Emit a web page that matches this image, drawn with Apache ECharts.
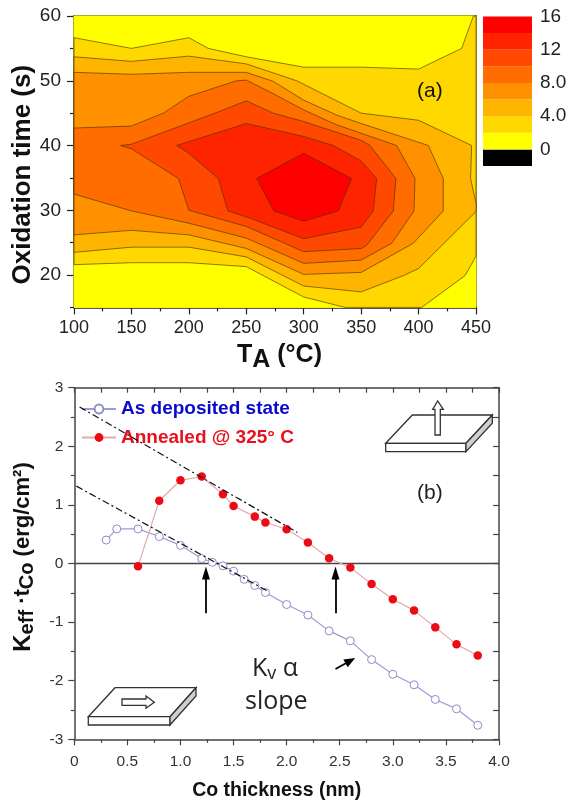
<!DOCTYPE html>
<html>
<head>
<meta charset="utf-8">
<style>html,body{margin:0;padding:0;background:#fff}#c{width:569px;height:803px}</style>
<script src="https://cdn.jsdelivr.net/npm/echarts@6/dist/echarts.min.js"></script>
</head>
<body>
<div id="c"></div>
<script>
// ---- Panel (a): contour boundaries, [T_A in °C, oxidation time in s]
const contour2 = [[100,56.65],[150,55],[200,56.65],[216.9,55],[250,53.7],[300,52.1],[350,52.1],[400,51.8],[437.5,55],[447.7,60],[450,60],[450,22.9],[440.4,19.9],[402.7,15],[336,15],[300,16.6],[250,21.3],[200,21.9],[150,21.9],[100,21.6]];
const contour4 = [[100,53.7],[150,53],[200,53.8],[250,52.6],[293.9,50],[350,45],[400,43.9],[446.2,40],[445.3,34.9],[450,31.1],[450,29.8],[400,21],[386.7,19.9],[350,17.4],[300,18.3],[250,22.8],[200,24.3],[150,24.3],[100,23.5]];
const contour6 = [[100,51.3],[150,51],[200,51.3],[250,51.3],[273.5,49.9],[300,47],[328.7,44.7],[350,43.4],[408.5,40],[421.5,34.9],[421.5,29.9],[395.4,24.9],[350,20.4],[300,20.1],[250,24.1],[200,26.2],[150,26.9],[100,26.2]];
const contour8 = [[100,42.7],[150,43],[177.8,45],[200,47.6],[241.6,50],[250,50.1],[273.5,48],[300,45.5],[328.7,43.2],[350,41.9],[380.9,40],[396.9,34.9],[396,29.9],[376.6,24.9],[350,22.3],[300,21.8],[250,25.7],[200,28],[150,29.9],[100,32.5]];
const contour10 = [[140.6,40],[150,40.2],[222.8,45],[250,46.9],[273.5,45],[300,43.7],[350,40.8],[357.7,40],[380.3,34.9],[378,29.9],[354.8,24.6],[350,24.1],[300,23.6],[250,27.5],[200,30],[191,34.9],[150,39.5]];
const contour12 = [[189.4,40],[200,38.8],[225.6,34.9],[234,29.9],[250,29],[300,25.6],[350,27.4],[360.6,29.9],[363.5,34.9],[350,37.6],[325.8,40],[300,41.4],[250,43.4]];
const contour14 = [[259,34.9],[300,38.8],[341.7,34.9],[330,29.9],[300,28.3],[274,29.9]];
const contourBase = [[100,15],[450,15],[450,60],[100,60]];
const contours = [contourBase,contour2,contour4,contour6,contour8,contour10,contour12,contour14];
const bandColors = ['#FFFF00','#FFD800','#FFB400','#FF9000','#FF6C00','#FF4800','#FF2400','#FF0000'];

// ---- Colour scale
const scaleLevels = [-2,0,2,4,6,8,10,12,14,16];
const scaleColors = ['#000000'].concat(bandColors);
const scaleLabels = {16:'16',12:'12',8:'8.0',4:'4.0',0:'0'};

// ---- Panel (b)
const depositedX = [0.3,0.4,0.6,0.8,1.0,1.2,1.3,1.4,1.5,1.6,1.7,1.8,2.0,2.2,2.4,2.6,2.8,3.0,3.2,3.4,3.6,3.8];
const depositedY = [0.40,0.59,0.59,0.46,0.31,0.085,0.02,-0.04,-0.13,-0.27,-0.375,-0.495,-0.70,-0.88,-1.15,-1.32,-1.64,-1.89,-2.07,-2.32,-2.48,-2.76];
const annealedX = [0.6,0.8,1.0,1.2,1.4,1.5,1.7,1.8,2.0,2.2,2.4,2.6,2.8,3.0,3.2,3.4,3.6,3.8];
const annealedY = [-0.045,1.07,1.42,1.485,1.18,0.98,0.80,0.70,0.585,0.36,0.09,-0.07,-0.35,-0.61,-0.80,-1.09,-1.38,-1.57];
const zeroLine = [[0,0],[4,0]];
const slopeAnnealed = [[0.05,2.67],[2.1,0.53]];
const slopeDeposited = [[0.02,1.32],[1.82,-0.47]];
const arrowX = [1.24,2.46];
const arrowFromY = -0.85, arrowToY = -0.16;
const slopeArrow = [[2.46,-1.80],[2.6,-1.66]];

const FONT = '"Liberation Sans", Arial, sans-serif';
const zip = (xs,ys) => xs.map((x,i)=>[x,ys[i]]);
const AXA = '#222', AXB = '#444';
const boxFace = {fill:'#fff',stroke:'#333',lineWidth:1.3};
const boxSide = {fill:'#cfcfcf',stroke:'#333',lineWidth:1.3};
const poly = (points,style) => ({type:'polygon',shape:{points},style,z:20,silent:true});

const chart = echarts.init(document.getElementById('c'),null,{renderer:'canvas'});
chart.setOption({
  animation:false,
  backgroundColor:'#fff',
  textStyle:{fontFamily:FONT},
  grid:[
    {left:74,top:16,width:402,height:291.4,outerBoundsMode:'none'},
    {left:74.3,top:387.7,width:424.7,height:351.6,outerBoundsMode:'none'},
    {left:483,top:16.5,width:49,height:149.5,outerBoundsMode:'none'}
  ],
  xAxis:[
    {gridIndex:0,type:'value',min:100,max:450,interval:50,position:'bottom',
     axisLine:{show:true,lineStyle:{color:AXA,width:1.5}},splitLine:{show:false},
     axisTick:{show:true,length:7,lineStyle:{color:AXA,width:1.2}},
     minorTick:{show:true,splitNumber:2,length:4,lineStyle:{color:AXA,width:1.2}},
     axisLabel:{fontSize:18,color:'#222',margin:12,fontFamily:FONT,showMinLabel:true,showMaxLabel:true},
     name:'{a|T}{s|A}{a| (°C)}',nameLocation:'middle',nameGap:31,nameMoveOverlap:false,
     nameTextStyle:{padding:[0,0,0,9],rich:{a:{fontSize:25,fontWeight:'bold',color:'#111',fontFamily:FONT},
       s:{fontSize:25,fontWeight:'bold',color:'#111',fontFamily:FONT,padding:[9,0,0,0]}}}},
    {gridIndex:0,type:'value',min:100,max:450,position:'top',
     axisLine:{show:true,lineStyle:{color:AXA,width:1.5}},axisTick:{show:false},axisLabel:{show:false},splitLine:{show:false}},
    {gridIndex:1,type:'value',min:0,max:4,interval:0.5,position:'bottom',
     axisLine:{show:true,onZero:false,lineStyle:{color:AXB,width:1.5}},splitLine:{show:false},
     axisTick:{show:true,length:6,lineStyle:{color:AXB,width:1.2}},
     minorTick:{show:true,splitNumber:2,length:3.5,lineStyle:{color:AXB,width:1.2}},
     axisLabel:{fontSize:15.5,color:'#333',margin:14,fontFamily:FONT,formatter:v=>v===0?'0':v.toFixed(1)},
     name:'Co thickness (nm)',nameLocation:'middle',nameGap:41,nameMoveOverlap:false,
     nameTextStyle:{fontSize:19.5,fontWeight:'bold',color:'#111',fontFamily:FONT,padding:[0,20,0,0]}},
    {gridIndex:1,type:'value',min:0,max:4,interval:0.25,position:'top',
     axisLine:{show:true,onZero:false,lineStyle:{color:AXB,width:1.5}},
     axisTick:{show:true,inside:true,length:5,lineStyle:{color:AXB,width:1.2}},axisLabel:{show:false},splitLine:{show:false}},
    {gridIndex:2,type:'value',min:0,max:1,show:false}
  ],
  yAxis:[
    {gridIndex:0,type:'value',min:15,max:60,interval:5,position:'left',
     axisLine:{show:true,lineStyle:{color:AXA,width:1.5}},splitLine:{show:false},
     axisTick:{show:true,length:7,customValues:[20,30,40,50,60],lineStyle:{color:AXA,width:1.2}},
     axisLabel:{fontSize:19,color:'#222',margin:13,fontFamily:FONT,customValues:[20,30,40,50,60]},
     name:'Oxidation time (s)',nameLocation:'middle',nameGap:38,nameRotate:90,nameMoveOverlap:false,
     nameTextStyle:{fontSize:26,fontWeight:'bold',color:'#111',fontFamily:FONT,padding:[0,26,0,0]}},
    {gridIndex:0,type:'value',min:15,max:60,interval:5,position:'left',
     axisLine:{show:false},splitLine:{show:false},axisLabel:{show:false},
     axisTick:{show:true,length:4,customValues:[15,25,35,45,55],lineStyle:{color:AXA,width:1.2}}},
    {gridIndex:0,type:'value',min:15,max:60,position:'right',
     axisLine:{show:true,lineStyle:{color:AXA,width:1.5}},axisTick:{show:false},axisLabel:{show:false},splitLine:{show:false}},
    {gridIndex:1,type:'value',min:-3,max:3,interval:1,position:'left',
     axisLine:{show:true,onZero:false,lineStyle:{color:AXB,width:1.5}},splitLine:{show:false},
     axisTick:{show:true,length:6,lineStyle:{color:AXB,width:1.2}},
     minorTick:{show:true,splitNumber:2,length:3.5,lineStyle:{color:AXB,width:1.2}},
     axisLabel:{fontSize:15.5,color:'#333',margin:11,fontFamily:FONT},
     name:'{a|K}{s|eff}{b| ·t}{s|Co}{b| (erg/cm²)}',nameLocation:'middle',nameGap:37,nameRotate:90,nameMoveOverlap:false,
     nameTextStyle:{padding:[0,0,0,13],rich:{a:{fontSize:24,fontWeight:'bold',color:'#111',fontFamily:FONT},
       b:{fontSize:22,fontWeight:'bold',color:'#111',fontFamily:FONT},
       s:{fontSize:20,fontWeight:'bold',color:'#111',fontFamily:FONT,padding:[8,0,0,0]}}}},
    {gridIndex:1,type:'value',min:-3,max:3,interval:0.5,position:'right',
     axisLine:{show:true,onZero:false,lineStyle:{color:AXB,width:1.5}},
     axisTick:{show:true,inside:true,length:6,lineStyle:{color:AXB,width:1.2}},axisLabel:{show:false},splitLine:{show:false}},
    {gridIndex:2,type:'value',min:-2,max:16,interval:2,position:'right',
     axisLine:{show:false},axisTick:{show:false},splitLine:{show:false},
     axisLabel:{fontSize:19,color:'#222',margin:8,padding:[4,0,0,0],fontFamily:FONT,formatter:v=>scaleLabels[v]||''}}
  ],
  legend:{
    show:true,orient:'vertical',left:81,top:399.5,padding:0,itemWidth:34,itemHeight:11,itemGap:9.5,selectedMode:false,align:'left',
    data:[
      {name:'As deposited state',textStyle:{color:'#0A0ACD',fontSize:19,fontWeight:'bold',fontFamily:FONT}},
      {name:'Annealed @ 325° C',textStyle:{color:'#E8101C',fontSize:19,fontWeight:'bold',fontFamily:FONT}}
    ]
  },
  series:[
    {type:'custom',name:'contours',xAxisIndex:0,yAxisIndex:0,silent:true,
     data:contours.map((c,i)=>[i]),
     renderItem:(p,api)=>{
       const i=api.value(0);
       return {type:'polygon',shape:{points:contours[i].map(d=>api.coord(d))},
         style:{fill:bandColors[i],stroke:i===0?bandColors[0]:'rgba(70,50,0,0.62)',lineWidth:1}};
     }},
    {type:'custom',name:'scale',xAxisIndex:4,yAxisIndex:5,silent:true,
     data:scaleColors.map((c,i)=>[i]),
     renderItem:(p,api)=>{
       const i=api.value(0);
       const a=api.coord([0,scaleLevels[i+1]]),b=api.coord([1,scaleLevels[i]]);
       return {type:'rect',shape:{x:a[0],y:a[1],width:b[0]-a[0],height:b[1]-a[1]},style:{fill:scaleColors[i]}};
     }},
    {type:'line',name:'zeroLine',xAxisIndex:2,yAxisIndex:3,data:zeroLine,symbol:'none',silent:true,z:1,
     lineStyle:{color:'#444',width:1.5},
     markLine:{silent:true,animation:false,label:{show:false},lineStyle:{color:'#000',width:1.8,type:'solid'},
       data:arrowX.map(x=>[
         {coord:[x,arrowFromY],symbol:'none'},
         {coord:[x,arrowToY],symbol:'triangle',symbolSize:[8,13]}
       ]).concat([[
         {coord:slopeArrow[0],symbol:'none'},
         {coord:slopeArrow[1],symbol:'triangle',symbolSize:[9,11]}
       ]])}},
    {type:'line',name:'slopeA',xAxisIndex:2,yAxisIndex:3,data:slopeAnnealed,symbol:'none',silent:true,z:4,
     lineStyle:{color:'#111',width:1.2,type:[7,3,2,3]}},
    {type:'line',name:'slopeD',xAxisIndex:2,yAxisIndex:3,data:slopeDeposited,symbol:'none',silent:true,z:4,
     lineStyle:{color:'#111',width:1.2,type:[7,3,2,3]}},
    {type:'line',name:'As deposited state',xAxisIndex:2,yAxisIndex:3,data:zip(depositedX,depositedY),z:3,
     symbol:'circle',symbolSize:8,showSymbol:true,
     lineStyle:{color:'#9C9CD2',width:1.2},itemStyle:{color:'#fff',borderColor:'#8C8CCC',borderWidth:1}},
    {type:'line',name:'Annealed @ 325° C',xAxisIndex:2,yAxisIndex:3,data:zip(annealedX,annealedY),z:3,
     symbol:'circle',symbolSize:8.5,showSymbol:true,
     lineStyle:{color:'#E2AAA8',width:1.2},itemStyle:{color:'#EE0A14'}}
  ],
  graphic:[
    {type:'text',x:417,y:81,z:20,silent:true,style:{text:'(a)',font:'21px '+FONT,fill:'#111'}},
    {type:'text',x:417,y:483,z:20,silent:true,style:{text:'(b)',font:'21px '+FONT,fill:'#222'}},
    {type:'text',x:252,y:655,z:20,silent:true,style:{text:'{a|K}{s|v}{a| α}',fill:'#222',
      rich:{a:{font:'25px "Open Sans"',fill:'#222'},s:{font:'18px "Open Sans"',fill:'#222',padding:[10,0,0,0]}}}},
    {type:'text',x:245,y:689,z:20,silent:true,style:{text:'slope',font:'25px "Open Sans"',fill:'#222'}},
    poly([[385.7,443.3],[412.3,415],[492.3,415],[466,443.3]],boxFace),
    poly([[385.7,443.3],[466,443.3],[466,451.7],[385.7,451.7]],boxFace),
    poly([[466,443.3],[492.3,415],[492.3,423.3],[466,451.7]],boxSide),
    poly([[435,435],[440.3,435],[440.3,409.3],[443.3,409.3],[437.7,401],[432.7,409.3],[435,409.3]],boxFace),
    poly([[88.3,716.7],[115,687.7],[196,687.7],[170,716.7]],boxFace),
    poly([[88.3,716.7],[170,716.7],[170,725],[88.3,725]],boxFace),
    poly([[170,716.7],[196,687.7],[196,696],[170,725]],boxSide),
    poly([[122,699],[146,699],[146,696],[154.3,702.3],[146,708.3],[146,705.3],[122,705.3]],boxFace)
  ]
});
</script>
</body>
</html>
